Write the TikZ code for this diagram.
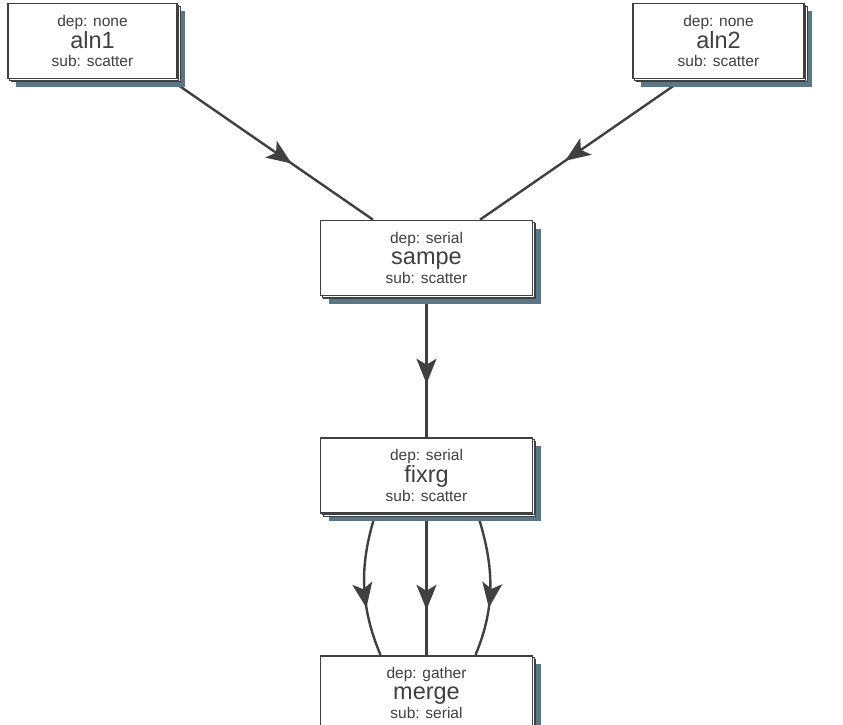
\documentclass[tikz,border=0pt]{standalone}
\usepackage{fontspec}
\setmainfont{Liberation Sans}
\usepackage{tikz}
\usetikzlibrary{arrows.meta, positioning, shadows, decorations.markings, backgrounds}

\definecolor{shadowblue}{RGB}{91,118,134}
\definecolor{linegray}{RGB}{64,64,64}

% three centred lines of a job box
\newcommand{\jobtext}[3]{\vbox{\offinterlineskip\halign{\hfil##\hfil\cr
    \fontsize{15.5}{18}\selectfont\rule[-5pt]{0pt}{13pt}dep: #1\cr
    \fontsize{23.5}{26}\selectfont\rule[-4pt]{0pt}{20pt}#2\cr
    \fontsize{15.5}{18}\selectfont\rule[-1pt]{0pt}{15pt}sub: #3\cr}}}

\begin{document}
\begin{tikzpicture}[x=1pt, y=1pt, node distance=141pt, >=Stealth]

        % --- styles ---
        \tikzstyle{job} = [rectangle, draw=linegray, line width=1.6pt, fill=white, text=linegray,
            minimum width=212pt, minimum height=75pt, inner sep=0pt,
            drop shadow={fill=shadowblue, opacity=1, shadow xshift=8pt, shadow yshift=-8pt},
            double copy shadow={draw=linegray, fill=white, line width=0.7pt, shadow xshift=1.6pt, shadow yshift=-1.6pt}]
        \tikzset{flow/.style={draw=linegray, line width=2.4pt, postaction={decorate},
            decoration={markings, mark=at position #1 with {\arrow[linegray]{Stealth[length=25pt, width=20pt, inset=6pt]}}}},
            flow/.default=0.62}

        \useasboundingbox (0,0) rectangle (843,-725);

        % --- jobs ---
        \node (aln1) [job, minimum width=169pt] at (92.5,-41) {\jobtext{none}{aln1}{scatter}};
        \node (aln2) [job, minimum width=171pt] at (718.5,-41) {\jobtext{none}{aln2}{scatter}};
        \node (sampe) [job] at (426.5,-258) {\jobtext{serial}{sampe}{scatter}};
        \node (fixrg) [job, below=of sampe] {\jobtext{serial}{fixrg}{scatter}};
        \node (merge) [job, below=of fixrg] {\jobtext{gather}{merge}{serial}};

        % --- edges (behind the boxes) ---
        \begin{pgfonlayer}{background}
        \path[flow=0.6] ([xshift=-8pt]aln1.south east) -- ([xshift=-53.5pt]sampe.north);
        \path[flow=0.58] ([xshift=-35.5pt]aln2.south) -- ([xshift=53.5pt]sampe.north);
        \path[flow] (sampe) -- (fixrg);
        \path[flow=0.68] (fixrg) -- (merge);
        \path[flow=0.66] ([xshift=-51pt]fixrg.south) .. controls +(-16,-50) and +(-21,50) .. ([xshift=-46pt]merge.north);
        \path[flow=0.66] ([xshift=51pt]fixrg.south) .. controls +(16,-50) and +(21,50) .. ([xshift=49pt]merge.north);
        \end{pgfonlayer}

\end{tikzpicture}
\end{document}
